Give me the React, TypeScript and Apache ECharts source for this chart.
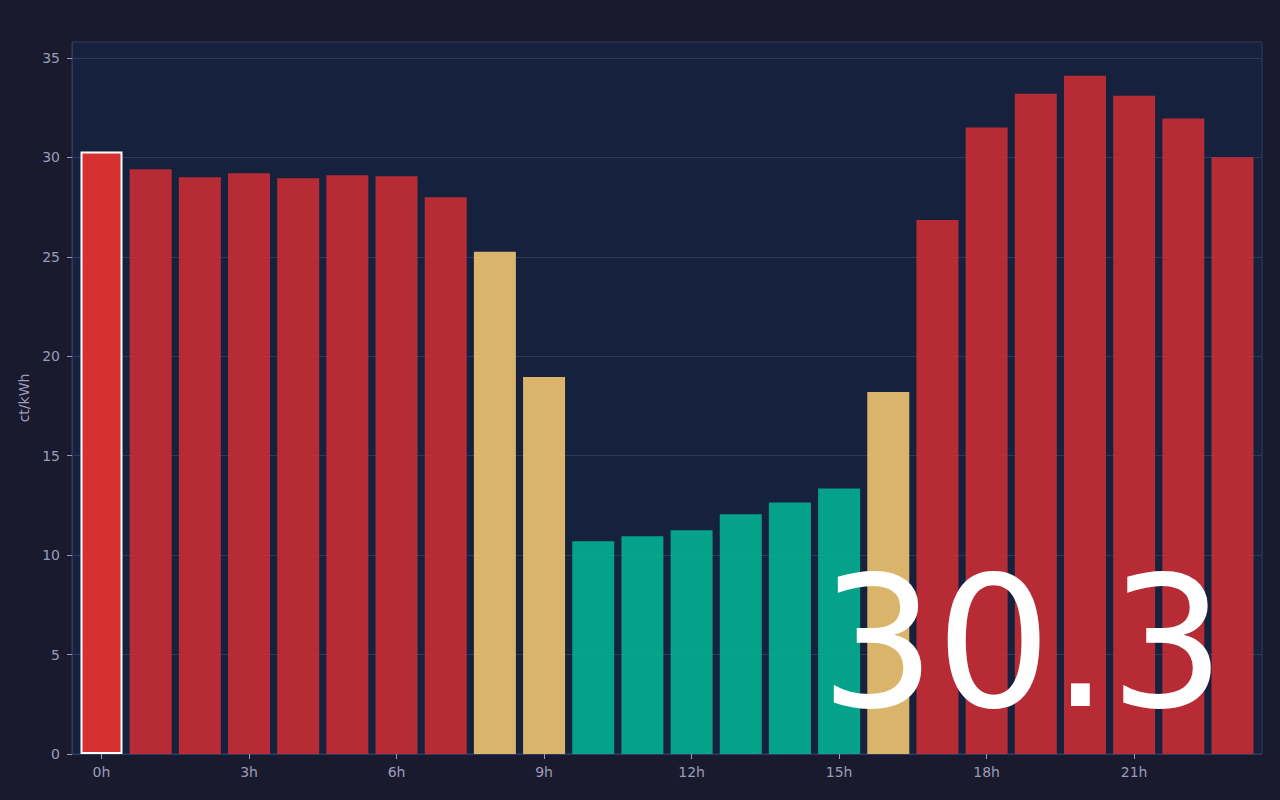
import React, { useEffect, useRef } from "react";
import * as echarts from "echarts";

const hours = [0, 1, 2, 3, 4, 5, 6, 7, 8, 9, 10, 11, 12, 13, 14, 15, 16, 17, 18, 19, 20, 21, 22, 23];
const prices = [30.3, 29.4, 29.0, 29.2, 28.95, 29.1, 29.05, 28.0, 25.25, 18.95, 10.7, 10.95, 11.25, 12.05, 12.65, 13.35, 18.2, 26.85, 31.5, 33.2, 34.1, 33.1, 31.95, 30.0];
const tickHours = [0, 3, 6, 9, 12, 15, 18, 21];
const yTicks = [0, 5, 10, 15, 20, 25, 30, 35];
const currentHour = 0;
const bigLabel = "30.3";

const RED = "#c92e33";
const YELLOW = "#eec46f";
const GREEN = "#02b191";
const HIGHLIGHT = "#d63030";

function colorFor(v: number) {
  if (v < 15) return GREEN;
  if (v < 26) return YELLOW;
  return RED;
}

export default function App() {
  const ref = useRef<HTMLDivElement>(null);
  useEffect(() => {
    if (!ref.current) return;
    const chart = echarts.init(ref.current, null, { renderer: "svg" });
    const textColor = "#9c9cba";
    chart.setOption({
      animation: false,
      backgroundColor: "#1a1a2e",
      grid: {
        left: 72,
        right: 18,
        top: 42,
        bottom: 46,
        show: true,
        backgroundColor: "#16213e",
        borderColor: "#2c3c60",
        borderWidth: 1,
      },
      xAxis: {
        type: "value",
        min: -0.6,
        max: 23.6,
        axisLine: { show: true, onZero: false, lineStyle: { color: "#2c3c60" } },
        splitLine: { show: false },
        axisTick: {
          show: true,
          customValues: tickHours,
          length: 5,
          lineStyle: { color: textColor },
        },
        axisLabel: {
          customValues: tickHours,
          formatter: (v: number) => `${v}h`,
          color: textColor,
          fontSize: 14,
          margin: 11,
          fontFamily: "DejaVu Sans",
        },
      },
      yAxis: {
        type: "value",
        min: 0,
        max: 35.8,
        name: "ct/kWh",
        nameLocation: "middle",
        nameGap: 41,
        nameTextStyle: { color: textColor, fontSize: 14, fontFamily: "DejaVu Sans" },
        axisLine: { show: true, onZero: false, lineStyle: { color: "#2c3c60" } },
        axisTick: { show: true, length: 5, customValues: yTicks, lineStyle: { color: textColor } },
        axisLabel: {
          color: textColor,
          fontSize: 14,
          margin: 12,
          fontFamily: "DejaVu Sans",
          customValues: yTicks,
        },
        splitLine: { show: true, lineStyle: { color: "#2b3a5c", width: 1 } },
      },
      series: [
        {
          type: "bar",
          barWidth: 42,
          data: hours.map((h, i) => {
            const v = prices[i];
            if (h === currentHour) {
              return {
                value: [h, v],
                itemStyle: { color: HIGHLIGHT, borderColor: "#ffffff", borderWidth: 2, opacity: 1 },
              };
            }
            return { value: [h, v], itemStyle: { color: colorFor(v), opacity: 0.9 } };
          }),
        },
      ],
      graphic: [
        {
          type: "text",
          x: 820,
          y: 552,
          z: 100,
          style: {
            text: bigLabel,
            fill: "#ffffff",
            fontSize: 182,
            fontFamily: "DejaVu Sans",
            textVerticalAlign: "top",
          },
        },
      ],
    });
    return () => chart.dispose();
  }, []);
  return <div ref={ref} style={{ width: 1280, height: 800, position: "fixed", left: 0, top: 0 }} />;
}
